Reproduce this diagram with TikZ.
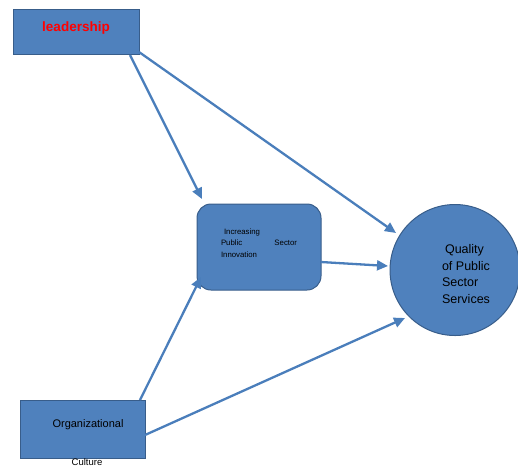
\documentclass[tikz,border=0pt]{standalone}
\usepackage{fontspec}
\setmainfont{Liberation Sans}
\usetikzlibrary{arrows.meta,shapes.geometric}
\definecolor{boxfill}{HTML}{4F81BD}
\definecolor{boxline}{HTML}{385D8A}
\definecolor{arrowc}{HTML}{4A7EBB}
\tikzset{
  box/.style={draw=boxline, fill=boxfill, line width=1pt},
  conn/.style={draw=arrowc, line width=2.3pt, -{Triangle[length=11pt,width=10pt]}}
}
\begin{document}
\begin{tikzpicture}[x=1pt,y=-1pt]
\useasboundingbox (0,0) rectangle (518,467);
% nodes
\node[box, minimum width=126pt, minimum height=45pt, inner sep=0pt] (lead) at (76,32) {};
\node[text=red, font=\bfseries\fontsize{13.5}{14}\selectfont] (leadt) at (76,28) {leadership};
\node[box, rounded corners=14pt, minimum width=124pt, minimum height=86pt, inner sep=0pt] (innov) at (259,247) {};
\node[font=\fontsize{7.8}{11.5}\selectfont, align=left, text width=76pt, inner sep=0pt] (innovt) at (259,243) {\hspace*{3pt}Increasing\\Public\hfill Sector\\Innovation};
\node[box, ellipse, minimum width=130pt, minimum height=131pt, inner sep=0pt] (qual) at (455,270) {};
\node[font=\fontsize{12.5}{16.5}\selectfont, align=left] (qualt) at (466,274) {\hspace*{3pt}Quality\\of Public\\Sector\\Services};
\node[box, minimum width=125pt, minimum height=58pt, inner sep=0pt] (org) at (82.5,429) {};
\node[font=\fontsize{11}{12}\selectfont] (orgt) at (88,425) {Organizational};
\node[font=\fontsize{9.5}{10}\selectfont] (cult) at (87,462) {Culture};
% connectors
\coordinate (l1) at (130,55);
\coordinate (l2) at (139,52);
\coordinate (i1) at (321,262);
\coordinate (o1) at (140,400);
\coordinate (o2) at (145,435);
\coordinate (t1) at (202,199);
\coordinate (t2) at (396,233);
\coordinate (t3) at (388,266);
\coordinate (t4) at (201,277);
\coordinate (t5) at (405,318);
\draw[conn] (l1) -- (t1);
\draw[conn] (l2) -- (t2);
\draw[conn] (i1) -- (t3);
\draw[conn] (o1) -- (t4);
\draw[conn] (o2) -- (t5);
\end{tikzpicture}
\end{document}
